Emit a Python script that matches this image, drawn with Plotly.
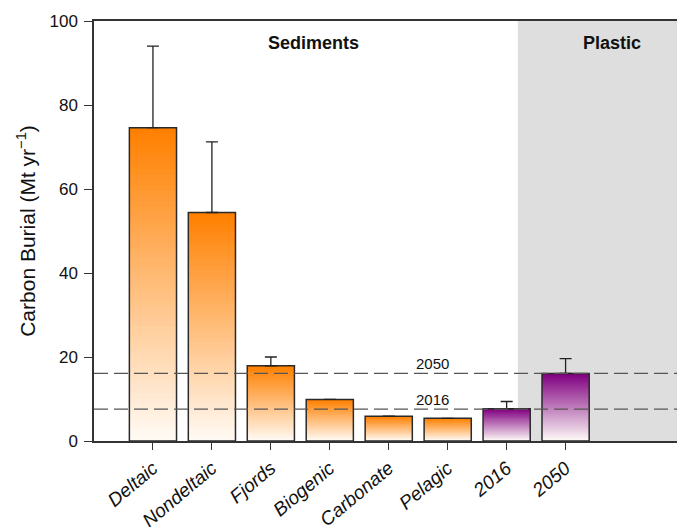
import plotly.graph_objects as go

categories = ["Deltaic", "Nondeltaic", "Fjords", "Biogenic", "Carbonate", "Pelagic", "2016", "2050"]
values = [74.6, 54.4, 17.9, 9.9, 5.9, 5.4, 7.7, 16.1]
err_plus = [19.4, 16.8, 2.1, 0.0, 0.0, 0.0, 1.7, 3.5]
groups = ["Sediments"] * 6 + ["Plastic"] * 2
ref_lines = {"2016": 7.6, "2050": 16.1}
y_ticks = [0, 20, 40, 60, 80, 100]

base_colors = {"Sediments": (255, 128, 0), "Plastic": (128, 0, 128)}
bottom = (255, 252, 248)

N = 60
fig = go.Figure()

# gradient fill via overlaid bars, tallest (top colour) first
for k in range(N):
    frac = 1 - k / N
    t = frac
    cols = []
    for g in groups:
        c = base_colors[g]
        rgb = [round(bottom[i] * (1 - t) + c[i] * t) for i in range(3)]
        cols.append(f"rgb({rgb[0]},{rgb[1]},{rgb[2]})")
    fig.add_trace(go.Bar(
        x=categories, y=[v * frac for v in values], width=0.8,
        marker=dict(color=cols, line=dict(width=0)),
        hoverinfo="skip", showlegend=False,
    ))

# outline + error bars
fig.add_trace(go.Bar(
    x=categories, y=values, width=0.8,
    marker=dict(color="rgba(0,0,0,0)", line=dict(color="#2a2a2a", width=1.5)),
    error_y=dict(type="data", array=err_plus, arrayminus=[0] * len(values),
                 symmetric=False, color="#222", thickness=1.3, width=6),
    showlegend=False,
))

fig.update_layout(
    barmode="overlay",
    width=677, height=527,
    margin=dict(l=94, r=0, t=21, b=86, autoexpand=False),
    plot_bgcolor="white", paper_bgcolor="white",
    font=dict(family="Liberation Sans, Arial, sans-serif", color="#111"),
    shapes=[
        dict(type="rect", xref="x", yref="y", x0=6.19, x1=8.89, y0=0, y1=100,
             fillcolor="#dedede", line=dict(width=0), layer="below"),
    ] + [
        dict(type="line", xref="paper", yref="y", x0=0, x1=1, y0=v, y1=v,
             line=dict(color="#555", width=1.3, dash="14px,6px"), layer="above")
        for v in ref_lines.values()
    ],
    annotations=[
        dict(x=2.73, y=94.8, xref="x", yref="y", text="<b>Sediments</b>",
             showarrow=False, font=dict(size=18, color="#111")),
        dict(x=7.78, y=94.8, xref="x", yref="y", text="<b>Plastic</b>",
             showarrow=False, font=dict(size=18, color="#111")),
    ] + [
        dict(x=4.75, y=v, xref="x", yref="y", text=name, yshift=10,
             showarrow=False, font=dict(size=15, color="#111"))
        for name, v in ref_lines.items()
    ],
)

fig.update_xaxes(
    range=[-1, 8.89], showline=True, mirror=True, linecolor="#333", linewidth=1.5,
    ticks="outside", ticklen=7, tickcolor="#333", tickangle=-40, automargin=False,
    tickfont=dict(size=19, style="italic", color="#111"), showgrid=False,
)
fig.update_yaxes(
    range=[0, 100], tickvals=y_ticks, showline=True, linecolor="#333", linewidth=1.5,
    ticks="outside", ticklen=8, tickcolor="#333", tickfont=dict(size=17, color="#111"),
    ticklabelstandoff=3,
    showgrid=False, zeroline=False, automargin=False,
    title=dict(text="Carbon Burial (Mt yr<sup>−1</sup>)", font=dict(size=21, color="#111"), standoff=8),
)

fig.write_html(
    "out.html",
    config={"displayModeBar": False},
    post_script="document.body.style.margin='0';document.body.style.overflow='hidden';",
)
